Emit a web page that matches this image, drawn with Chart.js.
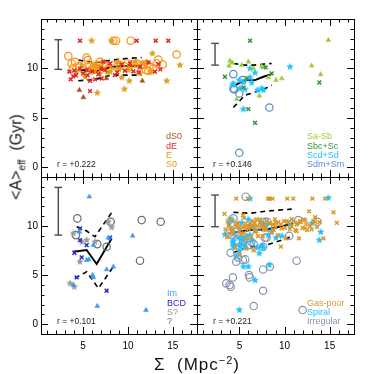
<!DOCTYPE html>
<html>
<head>
<meta charset="utf-8">
<script src="https://cdn.jsdelivr.net/npm/chart.js@4"></script>
<style>
  html, body { margin: 0; padding: 0; background: #fff; }
  #wrap { position: relative; width: 374px; height: 374px; overflow: hidden; font-family: "Liberation Sans", Arial, sans-serif; color: #000; }
  canvas { position: absolute; left: 0; top: 0; }
  .ytitle { position: absolute; left: 18px; top: 157px; transform: translate(-50%, -50%) rotate(-90deg); font-size: 16px; font-weight: normal; line-height: 1; white-space: nowrap; color: #111; }
  .ytitle sub { font-size: 10px; }
  .xtitle { position: absolute; left: 197px; top: 364px; transform: translate(-50%, -50%); font-size: 17px; line-height: 1; white-space: nowrap; letter-spacing: 1px; color: #111; }
  .xtitle sup { font-size: 11px; }
</style>
</head>
<body>
<div id="wrap">
  <canvas id="cTL" width="374" height="374"></canvas>
  <canvas id="cTR" width="374" height="374"></canvas>
  <canvas id="cBL" width="374" height="374"></canvas>
  <canvas id="cBR" width="374" height="374"></canvas>
  <div class="ytitle">&lt;A&gt;<sub>eff</sub>&nbsp;&nbsp;(Gyr)</div>
  <div class="xtitle">Σ&nbsp;&nbsp;(Mpc<sup>−2</sup>)</div>
</div>
<script>
// points are [sigma (Mpc^-2), <A>_eff (Gyr)]
// gas-poor types (top left)
const dS0 = [[4.58,7.8],[5.02,7.06],[11.6,8.74],[7.6,8.98]];
const dE = [[4.65,12.8],[10.97,12.8],[13.09,12.8],[14.5,12.8],[3.46,9.66],[3.61,8.88],[3.9,9.2],[4.2,9.3],[5.0,9.5],[5.77,7.7],[5.77,8.74],[6.32,8.88],[6.7,9.42],[7.07,8.98],[7.25,10.67],[8.0,10.5],[8.55,9.32],[9.67,9.76],[10.23,10.5],[11.34,10.16],[13.0,9.66],[13.39,10.43],[5.39,9.83],[4.65,10.0],[7.44,9.83],[4.0,9.8],[5.5,9.3],[6.0,9.7],[7.0,10.0],[8.8,9.6],[9.3,10.4],[10.6,9.7],[11.2,9.6],[12.3,10.6],[13.6,9.9]];
const E = [[5.95,12.8],[8.18,12.8],[12.72,11.5],[15.8,10.33],[14.32,8.74],[10.15,8.74],[9.6,7.9],[6.58,7.53],[11.34,9.49],[9.3,9.08],[8.0,9.66],[6.88,9.49],[5.21,9.15],[4.28,9.66],[4.84,10.33],[8.93,10.67],[10.04,9.83],[11.71,10.5],[12.1,10.67],[5.6,9.9],[6.4,10.5],[7.7,9.6],[9.0,9.9],[10.8,10.7],[12.5,9.6]];
const S0 = [[3.35,11.24],[3.72,10.5],[4.09,10.67],[3.83,10.0],[5.39,11.1],[5.5,10.84],[5.69,10.23],[6.7,10.33],[6.88,10.67],[9.11,10.3],[9.93,10.5],[10.41,10.4],[10.78,10.0],[10.97,10.5],[11.45,10.33],[12.0,9.83],[12.27,9.76],[12.83,10.0],[13.2,10.5],[13.39,10.9],[13.87,10.4],[15.43,11.4],[8.37,12.8],[8.67,12.8],[10.3,12.8],[6.14,10.0],[7.6,10.23],[8.74,10.16],[4.6,10.2],[5.0,9.9],[6.2,10.2],[6.6,10.0],[7.3,10.4],[7.8,10.0],[8.4,10.3],[9.6,10.2],[11.8,10.4],[12.4,10.2],[6.0,9.8],[6.4,9.9]];

// spirals (top right)
const SaSb = [[14.86,12.87],[13.01,10.27],[14.01,9.39],[9.69,8.98],[9.06,8.81],[3.96,10.77],[4.22,10.57],[3.85,10.26],[5.99,10.67],[5.25,10.33],[7.47,10.23],[4.7,6.9],[7.21,7.22],[8.21,9.08],[6.55,9.99]];
const SbcSc = [[6.18,12.8],[3.4,9.15],[5.99,5.87],[6.73,4.49],[13.86,8.57],[7.65,10.16],[8.58,9.49],[5.81,8.98],[5.44,8.07],[7.91,10.1]];
const ScdSd = [[10.61,10.16],[6.18,9.99],[6.73,9.56],[4.99,8.81],[4.33,8.47],[5.44,8.64],[6.36,8.54],[5.62,7.87],[6.99,7.8],[7.47,7.97],[5.44,5.87],[4.25,8.3],[5.07,7.97],[6.18,9.08],[7.65,7.8]];
const SdmSm = [[4.33,9.42],[5.36,8.81],[4.33,7.97],[4.44,7.87],[4.99,7.46],[8.32,6.04],[4.99,1.45]];

// irregulars (bottom left)
const Im = [[5.69,12.99],[4.58,9.42],[7.81,8.81],[10.52,9.0],[5.39,6.54],[5.65,6.6],[6.06,5.01],[6.14,4.77],[7.62,5.58],[8.37,5.85],[6.58,1.85],[12.01,1.44],[3.91,3.99],[6.14,8.06]];
const BCD = [[4.65,9.76],[4.65,8.57],[5.39,8.06],[4.02,7.28],[4.84,6.81],[8.0,8.81],[4.28,4.77],[7.62,3.41]];
const Sq = [[4.84,8.4],[5.39,8.57],[6.32,8.4],[7.81,10.44],[8.18,9.87],[4.65,6.37],[3.54,4.16],[4.02,3.82],[3.91,9.25]];
const Qm = [[4.35,10.78],[8.07,10.44],[11.53,10.61],[13.65,10.44],[4.2,9.08],[6.58,8.16],[11.34,6.47],[7.62,7.89]];

// median and quartile curves per panel
const medTL = [[4.46,9.89],[6.32,9.66],[8.18,10.16],[9.86,10.23],[11.53,10.27]];
const hiTL = [[4.46,10.84],[6.32,10.57],[8.18,10.84],[9.86,11.0],[11.53,11.1]];
const loTL = [[4.46,8.74],[6.32,8.88],[8.18,9.32],[9.86,9.32],[11.53,9.32]];
const medTR = [[4.33,8.2],[5.62,8.81],[6.73,8.81],[7.65,9.15],[8.58,9.42]];
const hiTR = [[4.33,10.5],[5.62,10.33],[6.55,10.33],[7.65,10.43],[8.58,10.5]];
const loTR = [[4.33,6.04],[5.62,7.29],[6.55,7.53],[7.65,7.87],[8.58,8.3]];
const medBL = [[3.91,7.38],[5.39,7.56],[6.51,6.13],[8.18,8.74]];
const hiBL = [[4.28,9.93],[5.39,9.5],[6.32,8.91],[8.37,11.63]];
const loBL = [[4.09,4.67],[5.39,5.35],[6.7,3.65],[8.37,5.86]];
const medBR = [[4.33,9.32],[6.18,9.6],[8.02,9.66],[9.5,9.93],[10.98,10.27]];
const hiBR = [[4.33,11.4],[6.18,11.3],[8.02,11.53],[10.8,11.73]];
const loBR = [[4.33,7.28],[5.81,7.83],[8.02,8.06],[10.8,8.92]];

// typical error bar per panel: [sigma, low, high]
const errTL = [2.23, 9.9, 12.9];
const errTR = [2.3, 10.33, 12.53];
const errBL = [2.23, 9.08, 13.94];
const errBR = [2.3, 9.93, 13.16];

const rValues = ["r = +0.222", "r = +0.146", "r = +0.101", "r = +0.221"];
const xTicks = [5, 10, 15];
const yTicks = [0, 5, 10];
const xRange = [0.3, 17.7];
const yRange = [-1, 15];

const FONT = "'Liberation Sans', Arial, sans-serif";

function starImg(color, r) {
  const c = document.createElement("canvas");
  const s = Math.ceil(r * 2 + 2);
  c.width = s; c.height = s;
  const g = c.getContext("2d");
  g.beginPath();
  for (let i = 0; i < 10; i++) {
    const rad = i % 2 ? r * 0.45 : r;
    const a = -Math.PI / 2 + i * Math.PI / 5;
    g.lineTo(s / 2 + rad * Math.cos(a), s / 2 + rad * Math.sin(a));
  }
  g.closePath();
  g.fillStyle = color;
  g.fill();
  return c;
}

const pts = a => a.map(p => ({ x: p[0], y: p[1] }));

function marks(data, style, color) {
  const d = { data: pts(data), borderColor: color, backgroundColor: color, pointRadius: 3, pointBorderWidth: 1.2 };
  if (style === "circle") { d.pointStyle = "circle"; d.backgroundColor = "rgba(0,0,0,0)"; d.pointRadius = 3.7; d.pointBorderWidth = 1.2; }
  if (style === "cross") { d.pointStyle = "crossRot"; d.pointRadius = 2.7; d.pointBorderWidth = 1.5; }
  if (style === "tri") { d.pointStyle = "triangle"; d.pointRadius = 2.8; d.pointBorderWidth = 0.5; }
  if (style === "star") { d.pointStyle = starImg(color, 4); }
  return d;
}

function curve(data, dashed) {
  return { data: pts(data), showLine: true, borderColor: "#000", borderWidth: dashed ? 1.6 : 1.9, borderDash: dashed ? [5, 4] : [], pointRadius: 0 };
}

function errBar(e) {
  return { data: [{ x: e[0], y: e[1] }, { x: e[0], y: e[2] }], showLine: true, borderColor: "#4a4a4a", borderWidth: 1.4,
    pointStyle: "line", pointRadius: 3.8, pointBorderWidth: 1.4, pointBorderColor: "#4a4a4a", pointRotation: 0 };
}

// frame, inward ticks, legend text and r value
const decor = {
  id: "panelDecor",
  afterDatasetsDraw(chart, args, opts) {
    const { ctx, chartArea: a, scales: { x, y } } = chart;
    ctx.save();
    ctx.strokeStyle = "#000";
    ctx.lineWidth = 1;
    ctx.strokeRect(a.left + 0.5, a.top + 0.5, a.right - a.left, a.bottom - a.top);
    ctx.beginPath();
    for (let v = 1; v <= 17; v++) {
      const px = Math.round(x.getPixelForValue(v)) + 0.5;
      const len = v % 5 === 0 ? 7 : 3.5;
      ctx.moveTo(px, a.bottom); ctx.lineTo(px, a.bottom - len);
      ctx.moveTo(px, a.top); ctx.lineTo(px, a.top + len);
    }
    for (let v = 0; v <= 14; v++) {
      const py = Math.round(y.getPixelForValue(v)) + 0.5;
      const len = v % 5 === 0 ? 7 : 3.5;
      ctx.moveTo(a.left, py); ctx.lineTo(a.left + len, py);
      ctx.moveTo(a.right, py); ctx.lineTo(a.right - len, py);
    }
    ctx.stroke();
    ctx.textBaseline = "middle";
    ctx.textAlign = "left";
    ctx.font = "9px " + FONT;
    opts.legend.forEach((l, i) => {
      if (!l) return;
      ctx.fillStyle = l[1];
      ctx.fillText(l[0], a.left + opts.dx, a.top + opts.dy + i * 9.3);
    });
    ctx.font = "8.5px " + FONT;
    ctx.fillStyle = "#222";
    ctx.fillText(opts.r, a.left + 16, a.bottom - 12);
    ctx.restore();
  }
};

function makeChart(id, pad, showX, showY, datasets, deco) {
  return new Chart(document.getElementById(id), {
    type: "scatter",
    data: { datasets },
    options: {
      responsive: false,
      animation: false,
      events: [],
      layout: { padding: pad },
      plugins: { legend: { display: false }, tooltip: { enabled: false }, panelDecor: deco },
      scales: {
        x: {
          type: "linear", min: xRange[0], max: xRange[1], display: showX,
          grid: { display: false, drawTicks: false }, border: { display: false },
          afterBuildTicks: s => { s.ticks = xTicks.map(v => ({ value: v })); },
          afterFit: s => { s.height = showX ? 40 : 0; },
          ticks: { autoSkip: false, maxRotation: 0, padding: 6, color: "#000", font: { size: 10, family: FONT } }
        },
        y: {
          type: "linear", min: yRange[0], max: yRange[1], display: showY,
          grid: { display: false, drawTicks: false }, border: { display: false },
          afterBuildTicks: s => { s.ticks = yTicks.map(v => ({ value: v })); },
          afterFit: s => { s.width = showY ? 41 : 0; },
          ticks: { autoSkip: false, padding: 3, color: "#000", font: { size: 10, family: FONT } }
        }
      }
    },
    plugins: [decor]
  });
}

// colours
const C = {
  dS0: "#a0522d", dE: "#e3262a", E: "#d9a21b", S0: "#ff8c0f",
  SaSb: "#9ccc3c", SbcSc: "#35963a", ScdSd: "#1ec3ff", SdmSm: "#5b8cc8",
  Im: "#3b9cf0", BCD: "#2a2ad0", Sq: "#9a9a9a", Qm: "#5f6f6f",
  gas: "#d9962a", spiral: "#22c0ff", irr: "#8595ad"
};

makeChart("cTL", { left: 0, top: 19, right: 177, bottom: 197 }, false, true, [
  errBar(errTL),
  marks(dS0, "tri", C.dS0), marks(dE, "cross", C.dE), marks(E, "star", C.E), marks(S0, "circle", C.S0),
  curve(medTL, false), curve(hiTL, true), curve(loTL, true)
], { dx: 125, dy: 118, r: rValues[0], legend: [["dS0", C.dS0], ["dE", C.dE], ["E", C.E], ["S0", C.S0]] });

makeChart("cTR", { left: 197, top: 19, right: 20, bottom: 197 }, false, false, [
  errBar(errTR),
  marks(SaSb, "tri", C.SaSb), marks(SbcSc, "cross", C.SbcSc), marks(ScdSd, "star", C.ScdSd), marks(SdmSm, "circle", C.SdmSm),
  curve(medTR, false), curve(hiTR, true), curve(loTR, true)
], { dx: 110, dy: 118, r: rValues[1], legend: [["Sa-Sb", C.SaSb], ["Sbc+Sc", C.SbcSc], ["Scd+Sd", C.ScdSd], ["Sdm+Sm", C.SdmSm]] });

makeChart("cBL", { left: 0, top: 177, right: 177, bottom: 0 }, true, true, [
  errBar(errBL),
  marks(Im, "tri", C.Im), marks(BCD, "cross", C.BCD), marks(Sq, "star", C.Sq), marks(Qm, "circle", C.Qm),
  curve(medBL, false), curve(hiBL, true), curve(loBL, true)
], { dx: 126, dy: 117, r: rValues[2], legend: [["Im", C.Im], ["BCD", C.BCD], ["S?", C.Sq], ["?", C.Qm]] });

// bottom right: all galaxies grouped in three classes
const gasPoor = [...dS0, ...dE, ...E, ...S0];
const spiral = [...SaSb, ...SbcSc, ...ScdSd, ...SdmSm];
const irregular = [...Im, ...BCD, ...Sq, ...Qm];

makeChart("cBR", { left: 197, top: 177, right: 20, bottom: 0 }, true, false, [
  errBar(errBR),
  marks(gasPoor, "cross", C.gas), marks(spiral, "star", C.spiral), marks(irregular, "circle", C.irr),
  curve(medBR, false), curve(hiBR, true), curve(loBR, true)
], { dx: 110, dy: 117, r: rValues[3], legend: [null, ["Gas-poor", C.gas], ["Spiral", C.spiral], ["Irregular", C.irr]] });
</script>
</body>
</html>
